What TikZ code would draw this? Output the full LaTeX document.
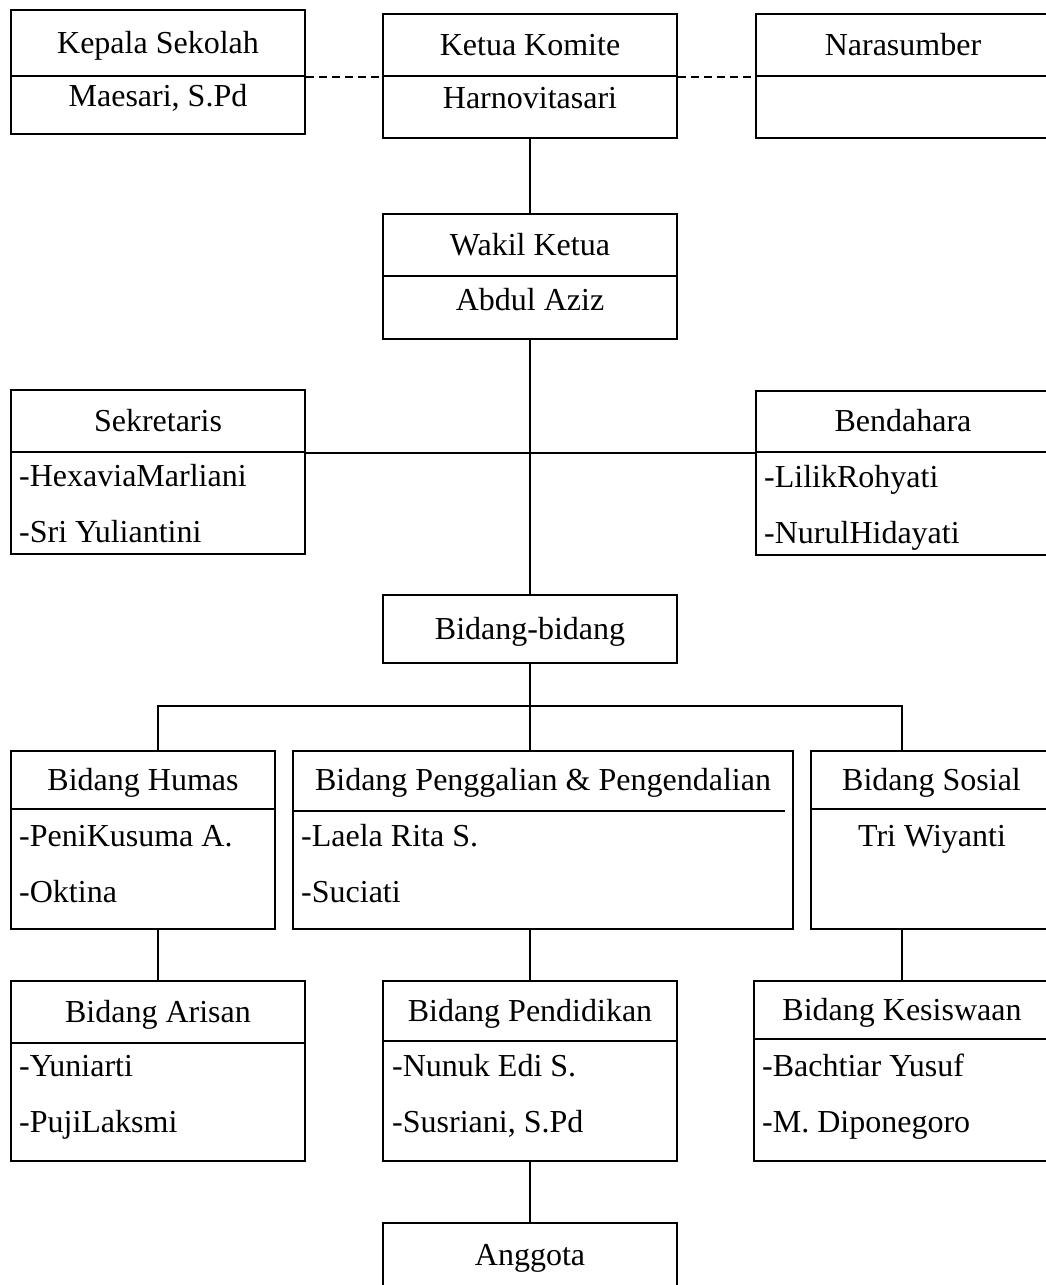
\documentclass[tikz,border=0pt]{standalone}
\usepackage{fontspec}
\setmainfont{Liberation Serif}
\tikzset{
  kotak/.style={draw, line width=1.5pt, inner sep=0pt, text height=21.7pt, text depth=1.7pt},
  teks/.style={inner sep=0pt, anchor=base},
  daftar/.style={inner sep=0pt, anchor=base west},
  garis/.style={line width=1.5pt},
  putus/.style={line width=1.5pt, dash pattern=on 8pt off 5pt}
}

\begin{document}
\begin{tikzpicture}[x=1pt,y=-1pt,font=\fontsize{32}{38}\selectfont]
\path[use as bounding box, clip] (0,0) rectangle (1046,1285);
% baris atas
\node[kotak, minimum width=294pt, minimum height=66pt] (kepala) at (158,43) {Kepala Sekolah};
\node[kotak, minimum width=294pt, minimum height=58pt] (kepalaIsi) at (158,105) {};
\node[teks] (maesari) at (158,106) {Maesari, S.Pd};
\node[kotak, minimum width=294pt, minimum height=62pt] (ketua) at (530,45) {Ketua Komite};
\node[kotak, minimum width=294pt, minimum height=62pt] (ketuaIsi) at (530,107) {};
\node[teks] (harnovitasari) at (530,108) {Harnovitasari};
\node[kotak, minimum width=294pt, minimum height=62pt] (narasumber) at (903,45) {Narasumber};
\node[kotak, minimum width=294pt, minimum height=62pt] (narasumberIsi) at (903,107) {};
\node[kotak, minimum width=294pt, minimum height=62pt] (wakil) at (530,245) {Wakil Ketua};
\node[kotak, minimum width=294pt, minimum height=63pt] (wakilIsi) at (530,307.5) {};
\node[teks] (abdul) at (530,310) {Abdul Aziz};
% sekretaris dan bendahara
\node[kotak, minimum width=294pt, minimum height=62pt] (sekretaris) at (158,421) {Sekretaris};
\node[kotak, minimum width=294pt, minimum height=102pt] (sekretarisIsi) at (158,503) {};
\node[daftar] (hexavia) at (19,486) {-HexaviaMarliani};
\node[daftar] (sri) at (19,542) {-Sri Yuliantini};
\node[kotak, minimum width=294pt, minimum height=61pt] (bendahara) at (903,421.5) {Bendahara};
\node[kotak, minimum width=294pt, minimum height=103pt] (bendaharaIsi) at (903,503.5) {};
\node[daftar] (lilik) at (764,487) {-LilikRohyati};
\node[daftar] (nurul) at (764,543) {-NurulHidayati};
\node[kotak, minimum width=294pt, minimum height=68pt] (bidang) at (530,629) {Bidang-bidang};
% bidang baris 1
\node[kotak, minimum width=264pt, minimum height=58pt] (humas) at (143,780) {Bidang Humas};
\node[kotak, minimum width=264pt, minimum height=120pt] (humasIsi) at (143,869) {};
\node[daftar] (peni) at (19,846) {-PeniKusuma A.};
\node[daftar] (oktina) at (19,902) {-Oktina};
\node[kotak, draw=none, minimum width=500pt, minimum height=59pt] (penggalian) at (543,780.5) {Bidang Penggalian \& Pengendalian};
\node[kotak, minimum width=500pt, minimum height=178pt] (penggalianIsi) at (543,840) {};
\node[daftar] (laela) at (301,846) {-Laela Rita S.};
\node[daftar] (suciati) at (301,902) {-Suciati};
\node[kotak, minimum width=241pt, minimum height=58pt] (sosial) at (931.5,780) {Bidang Sosial};
\node[kotak, minimum width=241pt, minimum height=120pt] (sosialIsi) at (931.5,869) {};
\node[teks] (triw) at (932,846) {Tri Wiyanti};
% bidang baris 2
\node[kotak, minimum width=294pt, minimum height=62pt] (arisan) at (158,1012) {Bidang Arisan};
\node[kotak, minimum width=294pt, minimum height=118pt] (arisanIsi) at (158,1102) {};
\node[daftar] (yuniarti) at (19,1076) {-Yuniarti};
\node[daftar] (puji) at (19,1132) {-PujiLaksmi};
\node[kotak, minimum width=294pt, minimum height=60pt] (pendidikan) at (530,1011) {Bidang Pendidikan};
\node[kotak, minimum width=294pt, minimum height=120pt] (pendidikanIsi) at (530,1101) {};
\node[daftar] (nunuk) at (392,1076) {-Nunuk Edi S.};
\node[daftar] (susriani) at (392,1132) {-Susriani, S.Pd};
\node[kotak, minimum width=296pt, minimum height=58pt] (kesiswaan) at (902,1010) {Bidang Kesiswaan};
\node[kotak, minimum width=296pt, minimum height=122pt] (kesiswaanIsi) at (902,1100) {};
\node[daftar] (bachtiar) at (762,1076) {-Bachtiar Yusuf};
\node[daftar] (diponegoro) at (762,1132) {-M. Diponegoro};
\node[kotak, minimum width=294pt, minimum height=65pt] (anggota) at (530,1255.5) {Anggota};
% garis
\draw[garis] (penggalian.south west) -- ([xshift=-9pt]penggalian.south east);
\draw[putus] (kepala.south east) -- (ketua.south west);
\draw[putus] (ketua.south east) -- (narasumber.south west);
\draw[garis] (ketuaIsi.south) -- (wakil.north);
\draw[garis] (wakilIsi.south) -- (bidang.north);
\draw[garis] (sekretaris.south east) -- (bendahara.south west);
\coordinate (cabang) at (530,706);
\draw[garis] (bidang.south) -- (cabang);
\draw[garis] (humas.north -| arisan.north) |- (kesiswaan.north |- cabang) -- (sosial.north -| kesiswaan.north);
\draw[garis] (cabang) -- (penggalian.north -| cabang);
\draw[garis] (humasIsi.south -| arisan.north) -- (arisan.north);
\draw[garis] (penggalianIsi.south -| pendidikan.north) -- (pendidikan.north);
\draw[garis] (sosialIsi.south -| kesiswaan.north) -- (kesiswaan.north);
\draw[garis] (pendidikanIsi.south) -- (anggota.north);
\end{tikzpicture}
\end{document}
